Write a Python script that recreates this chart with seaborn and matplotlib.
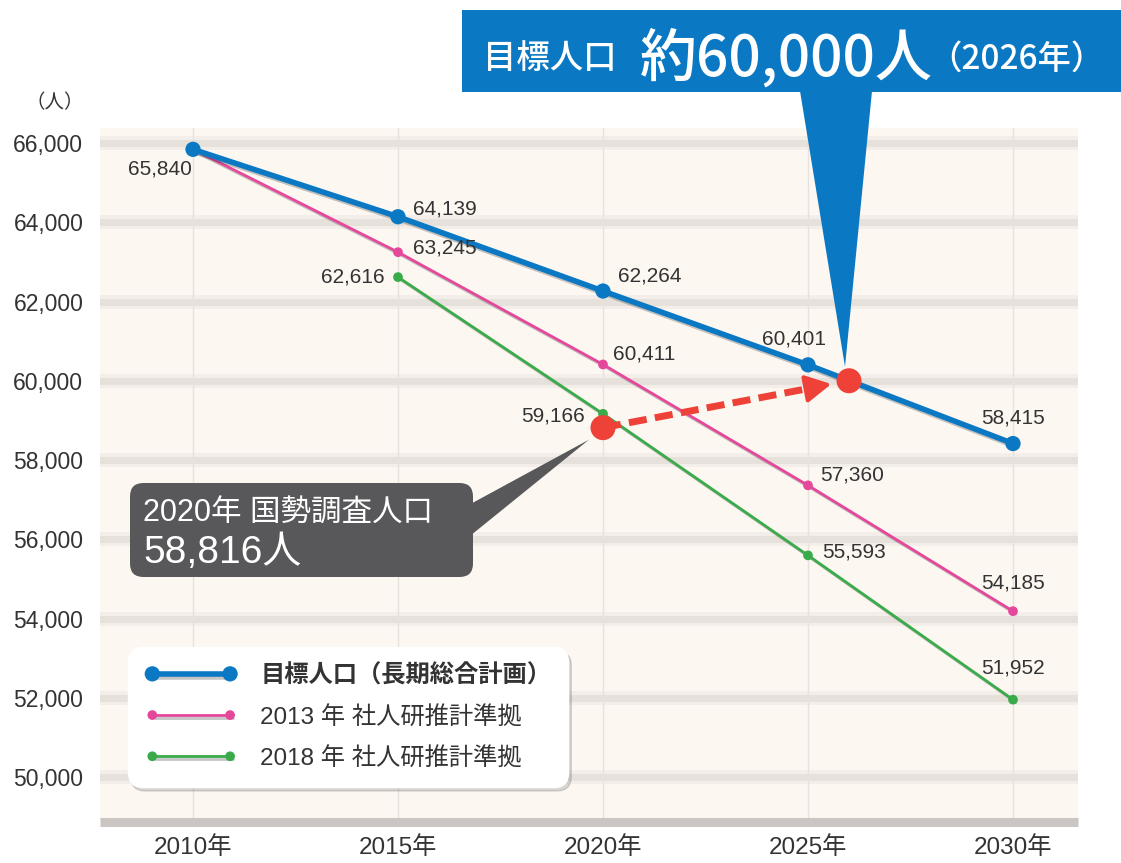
import matplotlib
matplotlib.use("Agg")
import matplotlib.pyplot as plt
import matplotlib.patheffects as pe
from matplotlib.patches import Polygon, FancyBboxPatch, Rectangle
import seaborn as sns
import pandas as pd

# -------------------- Data -------------------- #
years = [2010, 2015, 2020, 2025, 2030]
target_pop = [65840, 64139, 62264, 60401, 58415]
proj2013_pop = [65840, 63245, 60411, 57360, 54185]
years2018 = [2015, 2020, 2025, 2030]
proj2018_pop = [62616, 59166, 55593, 51952]
census_year, census_pop = 2020, 58816
goal_year, goal_pop = 2026, 60000

series_labels = ["目標人口（長期総合計画）", "2013 年 社人研推計準拠", "2018 年 社人研推計準拠"]
y_ticks = [50000, 52000, 54000, 56000, 58000, 60000, 62000, 64000, 66000]
x_tick_labels = [f"{y}年" for y in years]

BLUE = "#0b78c3"
PINK = "#e5489b"
GREEN = "#3aab4a"
RED = "#ee4137"
GRAY_BOX = "#58585a"
TEXT = "#333333"

W, H = 1121, 863

sns.set_theme(style="white")
plt.rcParams["font.family"] = ["Liberation Sans", "Noto Sans CJK JP", "DejaVu Sans"]
JP = ["Noto Sans CJK JP", "DejaVu Sans"]


def fpx(x, y):
    """image pixel (top-left origin) -> figure fraction"""
    return (x / W, 1 - y / H)


def data_to_fig(ax, fig, x, y, dx=0, dy=0):
    px = ax.transData.transform((x, y))
    return fig.transFigure.inverted().transform((px[0] + dx, px[1] + dy))


fig = plt.figure(figsize=(W / 100, H / 100), dpi=100)
ax = fig.add_axes([100 / W, 1 - 822 / H, 978 / W, (822 - 128) / H])
ax.set_facecolor("#fcf7f1")

ax.set_xlim(2010 - 93 / 41, 2010 - 93 / 41 + 978 / 41)
top = 66000 + 15 / 0.039625
ax.set_ylim(top - 694 / 0.039625, top)

# faded gridline bands
for v in y_ticks:
    ax.axhline(v, color="#f3eee9", lw=10, zorder=0.5)
    ax.axhline(v, color="#e7e1dc", lw=5, zorder=0.6)
for yr in years:
    ax.axvline(yr, color="#e8e2de", lw=1, zorder=0.7)

shadow = [pe.SimpleLineShadow(offset=(2, -2), alpha=0.25), pe.Normal()]

df_target = pd.DataFrame({"year": years, "pop": target_pop})
df_2013 = pd.DataFrame({"year": years, "pop": proj2013_pop})
df_2018 = pd.DataFrame({"year": years2018, "pop": proj2018_pop})

sns.lineplot(data=df_2018, x="year", y="pop", ax=ax, color=GREEN, lw=2, marker="o",
             markersize=7, markeredgewidth=0, label=series_labels[2], zorder=3,
             path_effects=shadow)
sns.lineplot(data=df_2013, x="year", y="pop", ax=ax, color=PINK, lw=2, marker="o",
             markersize=7, markeredgewidth=0, label=series_labels[1], zorder=3,
             path_effects=shadow)
sns.lineplot(data=df_target, x="year", y="pop", ax=ax, color=BLUE, lw=4, marker="o",
             markersize=11, markeredgewidth=0, label=series_labels[0], zorder=4,
             path_effects=shadow)

# red markers + dashed arrow
ax.plot([census_year, goal_year], [census_pop, goal_pop], ls="none", marker="o",
        markersize=18, color=RED, markeredgewidth=0, zorder=6, path_effects=shadow)
ax.plot([census_year, goal_year - 0.6], [census_pop, goal_pop - 0.1 * (goal_pop - census_pop)],
        color=RED, lw=5, dashes=(2.6, 1.2), zorder=5)
ax.annotate("", xy=(goal_year, goal_pop),
            xytext=(goal_year - 0.8, goal_pop - 0.13 * (goal_pop - census_pop)),
            arrowprops=dict(arrowstyle="-|>,head_length=1.3,head_width=0.7", color=RED,
                            lw=3, shrinkA=0, shrinkB=13), zorder=5)

# data labels: (x, value, dx, dy, ha)
labels = [
    (2010, target_pop[0], -33, -20, "center"),
    (2015, target_pop[1], 15, 8, "left"),
    (2020, target_pop[2], 15, 15, "left"),
    (2025, target_pop[3], -14, 26, "center"),
    (2030, target_pop[4], 0, 26, "center"),
    (2015, proj2013_pop[1], 15, 4, "left"),
    (2020, proj2013_pop[2], 10, 10, "left"),
    (2025, proj2013_pop[3], 12, 10, "left"),
    (2030, proj2013_pop[4], 0, 28, "center"),
    (2015, proj2018_pop[0], -13, 0, "right"),
    (2020, proj2018_pop[1], -18, -2, "right"),
    (2025, proj2018_pop[2], 14, 3, "left"),
    (2030, proj2018_pop[3], 0, 32, "center"),
]
for x, v, dx, dy, ha in labels:
    ax.annotate(f"{v:,}", (x, v), xytext=(dx, dy), textcoords="offset pixels",
                ha=ha, va="center", fontsize=15, color=TEXT, zorder=7)

# axes styling
ax.set_yticks(y_ticks)
ax.set_yticklabels([f"{v:,}" for v in y_ticks])
ax.set_xticks(years)
ax.set_xticklabels(x_tick_labels)
ax.tick_params(axis="y", length=0, pad=12, labelsize=16.5, labelcolor=TEXT)
ax.tick_params(axis="x", length=0, pad=10, labelsize=17.5, labelcolor=TEXT)
ax.set_xlabel("")
ax.set_ylabel("")
for s in ["top", "left", "right"]:
    ax.spines[s].set_visible(False)
ax.spines["bottom"].set_color("#cbc6c3")
ax.spines["bottom"].set_linewidth(6.5)
ax.spines["bottom"].set_capstyle("butt")

fig.text(*fpx(55, 103), "（人）", ha="center", va="center", fontsize=14,
         color=TEXT, family=JP)

# legend
handles, lbls = ax.get_legend_handles_labels()
order = [lbls.index(l) for l in series_labels]
leg = ax.legend([handles[i] for i in order], [lbls[i] for i in order],
                loc="upper left", bbox_to_anchor=fpx(128, 647),
                bbox_transform=fig.transFigure, borderaxespad=0, numpoints=2,
                handlelength=3.8, handletextpad=0.95, borderpad=0.7, labelspacing=0.75,
                fontsize=17.5, frameon=True, fancybox=True, framealpha=1,
                facecolor="white", edgecolor="white",
                shadow={"ox": 2, "oy": -3, "alpha": 0.2})
leg.get_frame().set_boxstyle("round,pad=0,rounding_size=0.6")
leg.set_zorder(8)
for t in leg.get_texts():
    t.set_color(TEXT)
leg.get_texts()[0].set_fontweight("bold")

# blue callout
fig.add_artist(Rectangle(fpx(462, 92), (1121 - 462) / W, (92 - 10) / H,
                         transform=fig.transFigure, color=BLUE, lw=0, zorder=10))
tip = data_to_fig(ax, fig, goal_year, goal_pop, dx=-4, dy=14)
fig.add_artist(Polygon([fpx(800, 91), fpx(872, 91), tip], closed=True,
                       transform=fig.transFigure, color=BLUE, lw=0, zorder=10))
fig.text(*fpx(483, 68), "目標人口", ha="left", va="baseline", fontsize=24,
         color="white", family=JP, weight="medium", zorder=11)
fig.text(*fpx(640, 76), "約60,000人", ha="left", va="baseline", fontsize=41,
         color="white", family=JP, weight="medium", zorder=11)
fig.text(*fpx(928, 69), "（2026年）", ha="left", va="baseline", fontsize=24,
         color="white", family=JP, weight="medium", zorder=11)

# gray callout
fig.add_artist(FancyBboxPatch(fpx(130, 577), (473 - 130) / W, (577 - 483) / H,
                              boxstyle="round,pad=0,rounding_size=0.012",
                              transform=fig.transFigure, color=GRAY_BOX, lw=0, zorder=10,
                              mutation_aspect=W / H))
tip2 = data_to_fig(ax, fig, census_year, census_pop, dx=-14, dy=-12)
fig.add_artist(Polygon([fpx(465, 507), fpx(465, 540), tip2], closed=True,
                       transform=fig.transFigure, color=GRAY_BOX, lw=0, zorder=10))
fig.text(*fpx(143, 522), "2020年 国勢調査人口", ha="left", va="baseline", fontsize=22,
         color="white", zorder=11)
fig.text(*fpx(143, 563), "58,816人", ha="left", va="baseline", fontsize=28,
         color="white", zorder=11)

fig.savefig("out.png", dpi=100)
